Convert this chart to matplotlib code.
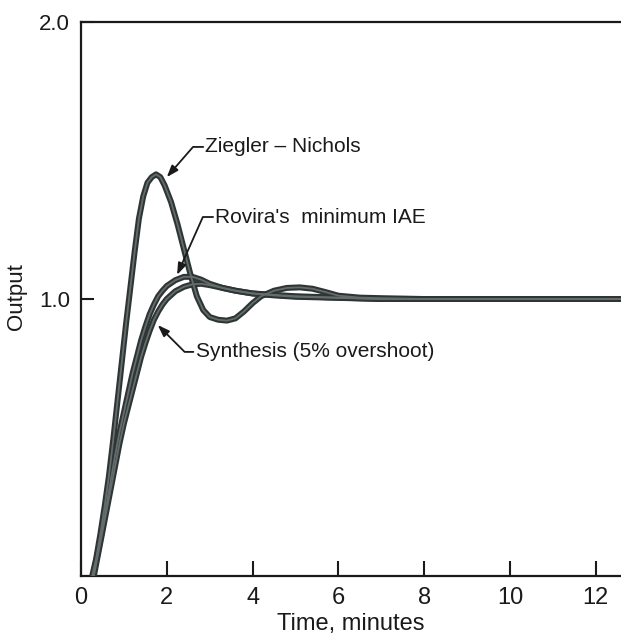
import matplotlib
matplotlib.use("Agg")
import matplotlib.pyplot as plt

plt.rcParams['font.family'] = ['Liberation Sans', 'DejaVu Sans']

# time (minutes) and output
zn_t = [0.26, 0.35, 0.45, 0.55, 0.65, 0.75, 0.85, 0.95, 1.05, 1.15, 1.25, 1.35,
        1.45, 1.55, 1.65, 1.75, 1.85, 1.95, 2.1, 2.25, 2.4, 2.55, 2.7, 2.85,
        3.0, 3.2, 3.4, 3.6, 3.8, 4.0, 4.2, 4.5, 4.8, 5.1, 5.4, 5.7, 6.0, 6.5,
        7.0, 8.0, 10.0, 12.6]
zn_y = [0.0, 0.06, 0.15, 0.25, 0.36, 0.49, 0.63, 0.77, 0.91, 1.04, 1.17, 1.29,
        1.37, 1.42, 1.44, 1.45, 1.44, 1.41, 1.35, 1.27, 1.18, 1.09, 1.01, 0.96,
        0.935, 0.925, 0.922, 0.93, 0.955, 0.985, 1.01, 1.03, 1.04, 1.042, 1.037,
        1.025, 1.012, 1.005, 1.003, 1.0, 1.0, 1.0]

rov_t = [0.28, 0.4, 0.5, 0.6, 0.7, 0.8, 0.9, 1.0, 1.1, 1.2, 1.3, 1.4, 1.5, 1.6,
         1.7, 1.8, 1.9, 2.0, 2.2, 2.4, 2.6, 2.8, 3.0, 3.3, 3.6, 4.0, 4.5, 5.0,
         6.0, 7.0, 12.6]
rov_y = [0.0, 0.09, 0.17, 0.26, 0.35, 0.44, 0.52, 0.59, 0.66, 0.73, 0.79, 0.85,
         0.90, 0.945, 0.98, 1.01, 1.03, 1.047, 1.068, 1.08, 1.08, 1.07, 1.055,
         1.04, 1.03, 1.02, 1.015, 1.01, 1.005, 1.0, 1.0]

syn_t = [0.3, 0.4, 0.5, 0.6, 0.7, 0.8, 0.9, 1.0, 1.1, 1.2, 1.3, 1.4, 1.5, 1.6,
         1.7, 1.8, 1.9, 2.0, 2.2, 2.4, 2.6, 2.8, 3.0, 3.3, 3.6, 4.0, 4.5, 5.0,
         6.0, 7.0, 12.6]
syn_y = [0.0, 0.08, 0.16, 0.24, 0.32, 0.40, 0.48, 0.55, 0.61, 0.67, 0.73, 0.79,
         0.84, 0.885, 0.925, 0.955, 0.98, 1.0, 1.028, 1.044, 1.053, 1.055, 1.05,
         1.04, 1.03, 1.02, 1.013, 1.008, 1.004, 1.0, 1.0]

x_ticks = [0, 2, 4, 6, 8, 10, 12]
x_tick_labels = ["0", "2", "4", "6", "8", "10", "12"]
y_ticks = [1.0, 2.0]
y_tick_labels = ["1.0", "2.0"]

fig = plt.figure(figsize=(6.21, 6.35), dpi=100)
ax = fig.add_axes([81 / 621, 1 - 576 / 635, 540 / 621, 554 / 635])

dark = '#2f3535'
mid = '#646c6c'
for t, y in [(syn_t, syn_y), (rov_t, rov_y), (zn_t, zn_y)]:
    ax.plot(t, y, color=dark, lw=4.3, solid_capstyle='round', zorder=3)
    ax.plot(t, y, color=mid, lw=1.3, solid_capstyle='round', zorder=4)

ax.set_xlim(0, 12.59)
ax.set_ylim(0, 2.0)
ax.set_xticks(x_ticks)
ax.set_xticklabels(x_tick_labels)
ax.set_yticks(y_ticks)
ax.set_yticklabels(y_tick_labels)
ax.tick_params(axis='x', direction='in', length=11, width=1.5, pad=8,
               labelsize=17, colors='#1a1a1a')
ax.tick_params(axis='y', direction='in', length=9, width=1.5, pad=8,
               labelsize=16, colors='#1a1a1a')
ax.spines['right'].set_visible(False)
for s in ['left', 'bottom', 'top']:
    ax.spines[s].set_linewidth(1.6)
    ax.spines[s].set_color('#1a1a1a')

ax.set_xlabel("Time, minutes", fontsize=17, labelpad=3, color='#1a1a1a')
ax.set_ylabel("Output", fontsize=16, color='#1a1a1a', va='center')
ax.yaxis.set_label_coords(-0.12, 0.505)

arrow = dict(arrowstyle='-|>,head_length=0.7,head_width=0.25', lw=1.3,
             color='#1a1a1a', shrinkA=0, shrinkB=0)

labels = [
    ("Ziegler – Nichols", (2.0, 1.44), (2.85, 1.549), 49),
    ("Rovira's  minimum IAE", (2.24, 1.087), (3.08, 1.296), 66),
    ("Synthesis (5% overshoot)", (1.79, 0.906), (2.62, 0.809), -45),
]
for txt, tip, start, ang in labels:
    ax.annotate('', xy=tip, xytext=start,
                arrowprops=dict(arrow, connectionstyle=f"angle,angleA=0,angleB={ang},rad=0"),
                zorder=5)
    ax.text(start[0] + 0.05, start[1], txt, fontsize=15, va='center', ha='left',
            color='#1a1a1a', zorder=5)

fig.savefig("out.png", dpi=100)
